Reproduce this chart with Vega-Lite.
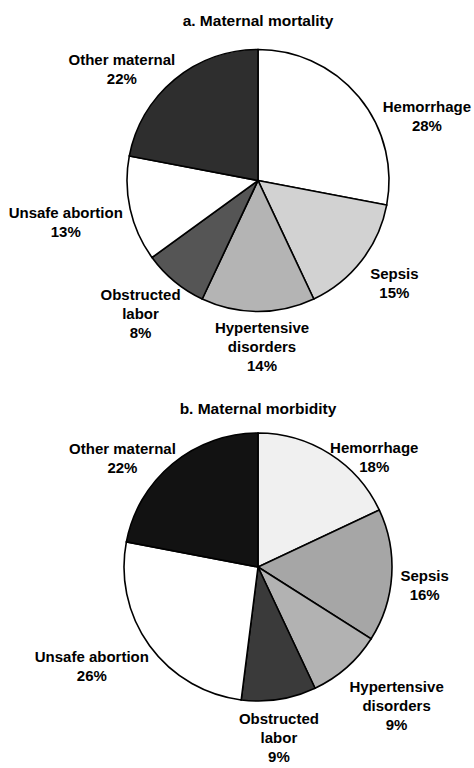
{
  "$schema": "https://vega.github.io/schema/vega-lite/v6.json",
  "background": "white",
  "padding": {"left": 8, "top": 13, "right": 0, "bottom": 0},
  "bounds": "flush",
  "spacing": 91,
  "config": {
    "view": {"stroke": null},
    "title": {"font": "Liberation Sans", "fontSize": 15.5, "fontWeight": "bold", "color": "black", "offset": 6, "anchor": "middle"}
  },
  "data": {
    "values": [
      {"chart": "a", "idx": 1, "cause": "Hemorrhage", "value": 28},
      {"chart": "a", "idx": 2, "cause": "Sepsis", "value": 15},
      {"chart": "a", "idx": 3, "cause": "Hypertensive disorders", "value": 14},
      {"chart": "a", "idx": 4, "cause": "Obstructed labor", "value": 8},
      {"chart": "a", "idx": 5, "cause": "Unsafe abortion", "value": 13},
      {"chart": "a", "idx": 6, "cause": "Other maternal", "value": 22},
      {"chart": "b", "idx": 1, "cause": "Hemorrhage", "value": 18},
      {"chart": "b", "idx": 2, "cause": "Sepsis", "value": 16},
      {"chart": "b", "idx": 3, "cause": "Hypertensive disorders", "value": 9},
      {"chart": "b", "idx": 4, "cause": "Obstructed labor", "value": 9},
      {"chart": "b", "idx": 5, "cause": "Unsafe abortion", "value": 26},
      {"chart": "b", "idx": 6, "cause": "Other maternal", "value": 22}
    ]
  },
  "resolve": {"scale": {"color": "independent", "theta": "independent"}},
  "vconcat": [
    {
      "title": {"text": "a. Maternal mortality"},
      "width": 420,
      "height": 291,
      "transform": [
        {"filter": "datum.chart == 'a'"},
        {"calculate": "(datum.cause == 'Hypertensive disorders' || datum.cause == 'Obstructed labor' ? replace(datum.cause, ' ', '|') : datum.cause) + '|' + datum.value + '%'", "as": "label"}
      ],
      "encoding": {
        "theta": {"field": "value", "type": "quantitative", "stack": true},
        "order": {"field": "idx", "type": "quantitative"}
      },
      "layer": [
        {
          "mark": {"type": "arc", "radius": 131, "stroke": "black", "strokeWidth": 1.6},
          "encoding": {
            "color": {
              "field": "cause", "type": "nominal", "legend": null,
              "scale": {
                "domain": ["Hemorrhage", "Sepsis", "Hypertensive disorders", "Obstructed labor", "Unsafe abortion", "Other maternal"],
                "range": ["#ffffff", "#d2d2d2", "#b4b4b4", "#555555", "#ffffff", "#2e2e2e"]
              }
            }
          }
        },
        {
          "mark": {
            "type": "text", "font": "Liberation Sans", "fontSize": 15, "fontWeight": "bold", "color": "black",
            "align": "center", "baseline": "middle", "lineBreak": "|", "lineHeight": 19,
            "radius": {"expr": "datum.cause == 'Hemorrhage' ? 179 : datum.cause == 'Sepsis' ? 170 : datum.cause == 'Hypertensive disorders' ? 166 : datum.cause == 'Obstructed labor' ? 178 : datum.cause == 'Unsafe abortion' ? 197 : 176"},
            "dx": {"expr": "datum.cause == 'Hemorrhage' ? 31 : datum.cause == 'Sepsis' ? 2 : datum.cause == 'Hypertensive disorders' ? 4 : datum.cause == 'Obstructed labor' ? -4 : datum.cause == 'Other maternal' ? -24 : 0"},
            "dy": {"expr": "datum.cause == 'Hemorrhage' ? 40.5 : datum.cause == 'Sepsis' ? -10.5 : datum.cause == 'Hypertensive disorders' ? -19 : datum.cause == 'Obstructed labor' ? -23 : datum.cause == 'Unsafe abortion' ? -10.5 : 15.5"}
          },
          "encoding": {"text": {"field": "label", "type": "nominal"}}
        }
      ]
    },
    {
      "title": {"text": "b. Maternal morbidity", "offset": 0},
      "width": 420,
      "height": 300,
      "transform": [
        {"filter": "datum.chart == 'b'"},
        {"calculate": "(datum.cause == 'Hypertensive disorders' || datum.cause == 'Obstructed labor' ? replace(datum.cause, ' ', '|') : datum.cause) + '|' + datum.value + '%'", "as": "label"}
      ],
      "encoding": {
        "theta": {"field": "value", "type": "quantitative", "stack": true},
        "order": {"field": "idx", "type": "quantitative"}
      },
      "layer": [
        {
          "mark": {"type": "arc", "radius": 134, "stroke": "black", "strokeWidth": 1.6},
          "encoding": {
            "color": {
              "field": "cause", "type": "nominal", "legend": null,
              "scale": {
                "domain": ["Hemorrhage", "Sepsis", "Hypertensive disorders", "Obstructed labor", "Unsafe abortion", "Other maternal"],
                "range": ["#f0f0f0", "#a6a6a6", "#b2b2b2", "#3a3a3a", "#ffffff", "#121212"]
              }
            }
          }
        },
        {
          "mark": {
            "type": "text", "font": "Liberation Sans", "fontSize": 15, "fontWeight": "bold", "color": "black",
            "align": "center", "baseline": "middle", "lineBreak": "|", "lineHeight": 19,
            "radius": {"expr": "datum.cause == 'Hemorrhage' ? 161 : datum.cause == 'Sepsis' ? 167 : datum.cause == 'Hypertensive disorders' ? 196 : datum.cause == 'Obstructed labor' ? 172 : datum.cause == 'Unsafe abortion' ? 193 : 175"},
            "dx": {"expr": "datum.cause == 'Hemorrhage' ? 30 : datum.cause == 'Hypertensive disorders' ? 9 : datum.cause == 'Obstructed labor' ? -6 : datum.cause == 'Unsafe abortion' ? -10 : datum.cause == 'Other maternal' ? -24 : 0"},
            "dy": {"expr": "datum.cause == 'Hemorrhage' ? 16.5 : datum.cause == 'Sepsis' ? -1 : datum.cause == 'Hypertensive disorders' ? -27 : datum.cause == 'Obstructed labor' ? -18 : datum.cause == 'Unsafe abortion' ? -23.5 : 16.5"}
          },
          "encoding": {"text": {"field": "label", "type": "nominal"}}
        }
      ]
    }
  ]
}
